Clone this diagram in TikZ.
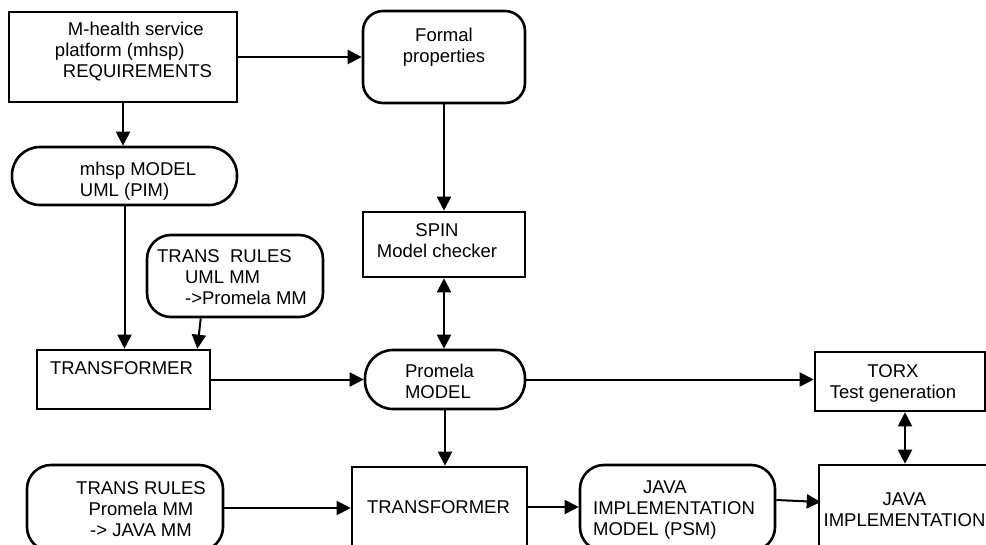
\documentclass[tikz,border=0pt]{standalone}
\usepackage{fontspec}
\setmainfont{Liberation Sans}
\usetikzlibrary{arrows.meta}

\begin{document}
\begin{tikzpicture}[x=1pt, y=-1pt,
    every node/.style={font=\fontsize{18.5}{21}\selectfont},
    sqbox/.style={draw, line width=2.6pt, inner sep=0pt},
    rndbox/.style={draw, line width=2.6pt, inner sep=0pt, rounded corners=24pt},
    txt/.style={inner sep=0pt},
    flow/.style={line width=2pt, -{Triangle[length=14pt,width=14pt]}},
    twoway/.style={line width=2pt, {Triangle[length=14pt,width=14pt]}-{Triangle[length=14pt,width=14pt]}}]
    \clip (0,0) rectangle (986,544);

    % --- Requirements and formal properties ---
    \node[sqbox, minimum width=228pt, minimum height=90pt] (req) at (123,57) {};
    \node[txt, align=left] (reqtxt) at (133.5,52) {\hspace*{13pt}M-health service\\platform (mhsp)\\\hspace*{8pt}REQUIREMENTS};
    \node[rndbox, rounded corners=20pt, minimum width=162pt, minimum height=92pt] (formal) at (444,57) {};
    \node[txt, align=center] (formaltxt) at (444,47) {Formal\\properties};

    % --- Platform model ---
    \node[rndbox, rounded corners=28pt, minimum width=225pt, minimum height=58pt] (mhsp) at (124.5,176) {};
    \node[txt, align=left] (mhsptxt) at (138,181) {mhsp MODEL\\UML (PIM)};

    % --- Model checker ---
    \node[sqbox, minimum width=162pt, minimum height=65pt] (spin) at (444,244.5) {};
    \node[txt, align=center] (spintxt) at (437,241) {SPIN\\Model checker};

    % --- First transformation ---
    \node[rndbox, minimum width=176pt, minimum height=82pt] (rules1) at (235,276) {};
    \node[txt, align=left] (rules1txt) at (232,277) {TRANS~\ RULES\\\hspace*{28pt}UML MM\\\hspace*{28pt}->Promela MM};
    \node[sqbox, minimum width=173pt, minimum height=59pt] (trans1) at (123.5,379.5) {};
    \node[txt] (trans1txt) at (121.5,368) {TRANSFORMER};

    % --- Promela model and testing ---
    \node[rndbox, rounded corners=28pt, minimum width=160pt, minimum height=59pt] (promela) at (445,379.5) {};
    \node[txt, align=left] (promelatxt) at (439.5,381) {Promela\\MODEL};
    \node[sqbox, minimum width=170pt, minimum height=59pt] (torx) at (900,381.5) {};
    \node[txt, align=center] (torxtxt) at (893,383) {TORX\\Test generation};

    % --- Second transformation ---
    \node[rndbox, minimum width=196pt, minimum height=86pt] (rules2) at (125,508) {};
    \node[txt, align=center] (rules2txt) at (141,509) {TRANS RULES\\Promela MM\\-> JAVA MM};
    \node[sqbox, minimum width=175pt, minimum height=80pt] (trans2) at (439.5,507) {};
    \node[txt] (trans2txt) at (438.5,507) {TRANSFORMER};

    % --- Java side ---
    \node[rndbox, minimum width=195pt, minimum height=86pt] (jmodel) at (677.5,508) {};
    \node[txt, align=left] (jmodeltxt) at (674,510) {\hspace*{50pt}JAVA\\IMPLEMENTATION\\MODEL (PSM)};
    \node[sqbox, minimum width=180pt, minimum height=90pt] (jimpl) at (909,510) {};
    \node[txt, align=center] (jimpltxt) at (904.5,510) {JAVA\\IMPLEMENTATION};

    % Connectors
    \draw[flow] (req.east) -- (formal.west);
    \draw[flow] (req.south) -- (req.south |- mhsp.north);
    \draw[flow] (mhsp.south) -- (mhsp.south |- trans1.north);
    \draw[flow] (rules1.231) -- ([xshift=-14pt]trans1.north east);
    \draw[flow] (formal.south) -- (spin.north);
    \draw[twoway] (spin.south) -- (spin.south |- promela.north);
    \draw[flow] (trans1.east) -- (promela.west);
    \draw[flow] (promela.east) -- (promela.east -| torx.west);
    \draw[twoway] ([xshift=5pt]torx.south) -- ([xshift=5pt]torx.south |- jimpl.north);
    \draw[flow] (promela.south) -- (promela.south |- trans2.north);
    \draw[flow] (rules2.east) -- (rules2.east -| trans2.west);
    \draw[flow] (trans2.east) -- (trans2.east -| jmodel.west);
    \draw[flow] ([yshift=8pt]jmodel.east) -- ([yshift=8pt,xshift=3pt]jimpl.west);
\end{tikzpicture}
\end{document}
